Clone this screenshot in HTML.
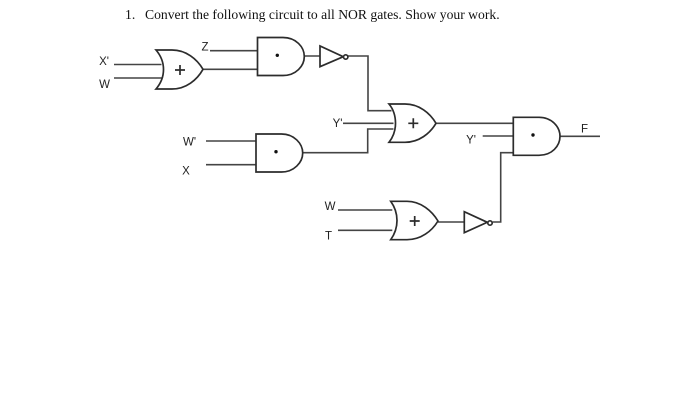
<!DOCTYPE html>
<html><head><meta charset="utf-8"><style>
html,body{margin:0;padding:0;background:#fff}
svg{display:block}
text{font-family:"Liberation Sans",sans-serif;font-size:11.5px;fill:#222;text-anchor:middle}
.t{font-family:"Liberation Serif",serif;font-size:13.65px;fill:#111;text-anchor:start}
.g{fill:none;stroke:#2c2c2c;stroke-width:1.7}
.s{fill:none;stroke:#444;stroke-width:1.6}
</style></head><body>
<svg width="700" height="402" viewBox="0 0 700 402" xmlns="http://www.w3.org/2000/svg" style="filter:blur(.35px)">
<text class="t" x="125" y="19">1.</text>
<text class="t" x="145" y="19">Convert the following circuit to all NOR gates. Show your work.</text>
<g class="s">
<path d="M114 64.5H161.5M114 78H161.5M203 69.3H257.5M210 50.7H257.5M304 56H320M348 56H368V110.7H391.5M343 123.3H393.5M393.5 129H367.7V152.7H302.7M206 141H256M206 164.7H256M436 123.3H513.3M482.7 136H513.3M513.3 152.7H500.7V222H492.7M438 222H464.3M338 210H392.3M338 230.3H392.3M560 136.3H600"/>
</g>
<g class="g">
<path d="M156 50H172C186 50 197 59 203 69.3C197 80 186 89 172 89H156C162 82 163.5 75 163.5 69.5C163.5 64 162 57 156 50Z"/>
<path d="M257.5 37.5H283C296 37.5 304.3 47 304.3 56.5C304.3 66 296 75.5 283 75.5H257.5Z"/>
<path d="M320 46V66.7L343.3 56.7Z"/>
<circle cx="345.7" cy="57" r="2.2" fill="#fff"/>
<path d="M256 134H281.5C294 134 302.7 143.5 302.7 153C302.7 162.5 294 172 281.5 172H256Z"/>
<path d="M389 104H405C419 104 430 113 436 123.3C430 133.5 419 142.3 405 142.3H389C394 136 395.5 129 395.5 123.3C395.5 117.5 394 110 389 104Z"/>
<path d="M513.3 117.3H539C552 117.3 560 127 560 136.3C560 146 552 155.3 539 155.3H513.3Z"/>
<path d="M390.7 201.3H407C421 201.3 432 211 438 221C432 231 421 239.7 407 239.7H390.7C395.5 233 397 226.5 397 220.5C397 214.5 395.5 208 390.7 201.3Z"/>
<path d="M464.3 211.7V232.7L487.3 222.3Z"/>
<circle cx="490" cy="223" r="2.2" fill="#fff"/>
<path d="M175 70H185M180 65V75M408.3 123.3H418.3M413.3 118.3V128.3M409.7 221H419.7M414.7 216V226"/>
</g>
<g fill="#111">
<circle cx="277.3" cy="55.3" r="1.7"/><circle cx="276" cy="151.7" r="1.7"/><circle cx="533" cy="135" r="1.7"/>
</g>
<text x="104" y="65">X'</text>
<text x="104.5" y="88">W</text>
<text x="205" y="50.5">Z</text>
<text x="189.5" y="145.5">W'</text>
<text x="186" y="174.5">X</text>
<text x="337.5" y="127">Y'</text>
<text x="471" y="143.5">Y'</text>
<text x="584.5" y="132.5">F</text>
<text x="330" y="210">W</text>
<text x="328.5" y="239.5">T</text>
</svg>
</body></html>
